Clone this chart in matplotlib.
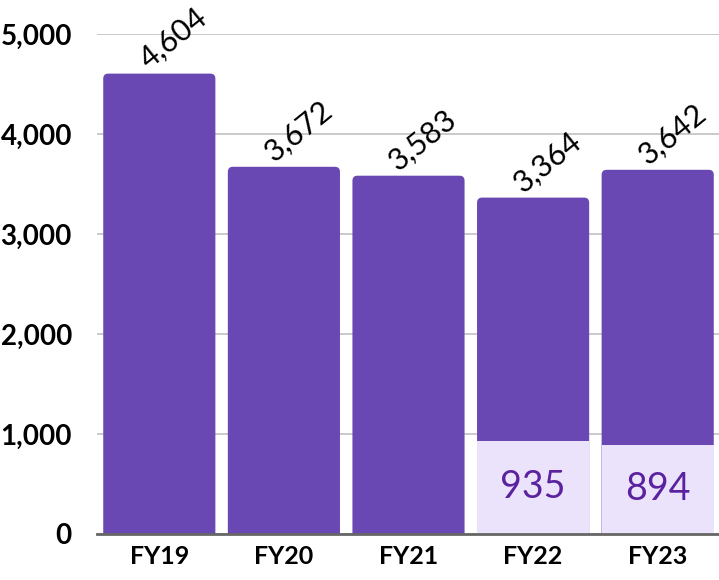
import matplotlib
matplotlib.use('Agg')
import matplotlib.pyplot as plt
from matplotlib.patches import FancyBboxPatch

years = ['FY19', 'FY20', 'FY21', 'FY22', 'FY23']
totals = [4604, 3672, 3583, 3364, 3642]
sub_years = ['FY22', 'FY23']
sub_values = [935, 894]

purple = '#6a48b3'
light = '#ebe3fb'
text_purple = '#5b22a0'

plt.rcParams['font.family'] = ['Lato', 'DejaVu Sans']

fig = plt.figure(figsize=(7.19, 5.80), dpi=100)
ax = fig.add_axes([97 / 719, 46 / 580, 623 / 719, 500 / 580])

x = list(range(len(years)))
width = 0.9
ax.set_xlim(-0.5, len(years) - 0.5)
ax.set_ylim(0, 5000)

# rounded top bars: patch goes below 0 so the bottom corners get clipped
bbox = ax.get_position()
px_x = (len(years)) / (bbox.width * 719)   # data x per pixel
px_y = 5000 / (bbox.height * 580)          # data y per pixel
r = 5 * px_x
for xi, v in zip(x, totals):
    p = FancyBboxPatch((xi - width / 2, -200), width, v + 200,
                       boxstyle=f'round,pad=0,rounding_size={r}',
                       mutation_aspect=px_y / px_x,
                       facecolor=purple, edgecolor='none', zorder=3)
    ax.add_patch(p)
    ax.annotate(f'{v:,}', (xi, v), xytext=(-10, 4), textcoords='offset pixels',
                rotation=39, rotation_mode='anchor', ha='left', va='baseline',
                fontsize=22, color='black', zorder=4)

sub_x = [years.index(y) for y in sub_years]
ax.bar(sub_x, sub_values, width=width, color=light, zorder=4)
for xi, v in zip(sub_x, sub_values):
    ax.text(xi, v / 2, f'{v:,}', ha='center', va='center', fontsize=27,
            color=text_purple, zorder=5)

ax.set_xticks(x)
ax.set_xticklabels(years, fontsize=18, fontweight='bold')
ax.set_yticks(range(0, 5001, 1000))
ax.set_yticklabels([f'{t:,}' for t in range(0, 5001, 1000)], fontsize=20, fontweight='bold')
ax.tick_params(length=0)
ax.tick_params(axis='y', pad=18)
ax.tick_params(axis='x', pad=8)

ax.grid(axis='y', color='#c6c6c6', linewidth=1.3, zorder=0)
for s in ['top', 'right', 'left']:
    ax.spines[s].set_visible(False)
ax.spines['bottom'].set_color('#666666')
ax.spines['bottom'].set_linewidth(2)
ax.spines['bottom'].set_zorder(6)

fig.savefig('out.png', dpi=100)
